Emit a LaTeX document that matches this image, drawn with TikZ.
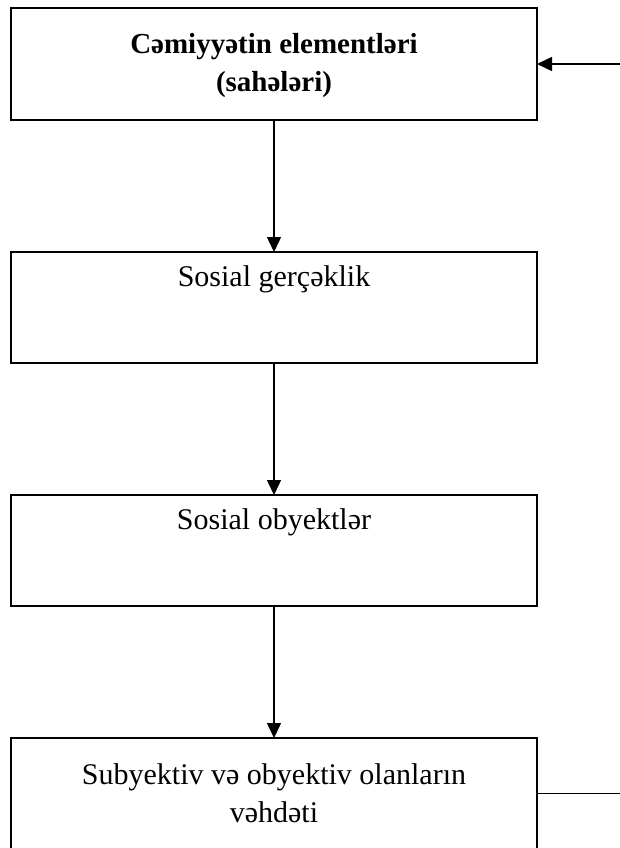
\documentclass[tikz,border=0pt]{standalone}
\usepackage{fontspec}
\setmainfont{Liberation Serif}
\usetikzlibrary{arrows.meta, positioning}

\begin{document}
\begin{tikzpicture}[x=1pt, y=-1pt, line width=1.5pt,
    box/.style={draw, minimum width=526pt, minimum height=111pt, inner sep=0pt, outer sep=0pt},
    boxtext/.style={anchor=base, align=center, inner sep=0pt, font=\fontsize{30}{38}\selectfont},
    flow/.style={-{Triangle[length=15pt, width=14pt]}}]
  \useasboundingbox (0,0) rectangle (620,848);
  % boxes
  \node[box, minimum height=112pt] (b1) at (274,64) {};
  \node[box, below=132pt of b1] (b2) {};
  \node[box, below=132pt of b2] (b3) {};
  \node[box, below=132pt of b3] (b4) {};
  % texts (base = last line)
  \node[boxtext, font=\fontsize{29}{38}\selectfont\bfseries] (t1) at (274,92)
    {Cəmiyyətin elementləri\\(sahələri)};
  \node[boxtext] (t2) at ([yshift=-34pt]b2.north) {Sosial gerçəklik};
  \node[boxtext] (t3) at ([yshift=-34pt]b3.north) {Sosial obyektlər};
  \node[boxtext] (t4) at ([yshift=-84pt]b4.north) {Subyektiv və obyektiv olanların\\vəhdəti};
  % connectors
  \coordinate (in) at (620,64);
  \coordinate (out) at (620,793.5);
  \draw[flow] (b1) -- (b2);
  \draw[flow] (b2) -- (b3);
  \draw[flow] (b3) -- (b4);
  \draw[flow] (in) -- (b1);
  \draw (b4) -- (out);
\end{tikzpicture}
\end{document}
